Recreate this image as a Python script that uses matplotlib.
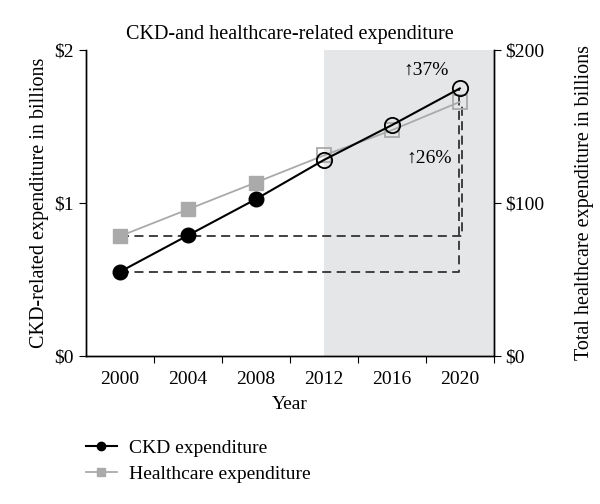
import matplotlib.pyplot as plt
from matplotlib.lines import Line2D

# data
years = [2000, 2004, 2008, 2012, 2016, 2020]
ckd = [0.549, 0.787, 1.024, 1.28, 1.508, 1.748]          # $ billions (left)
healthcare = [78.2, 95.7, 113.3, 131, 147.5, 166]       # $ billions (right)
projection_start = 2012
labels_pct = ["↑37%", "↑26%"]

plt.rcParams['font.family'] = ['Liberation Serif', 'DejaVu Serif']
plt.rcParams['font.size'] = 14

fig = plt.figure(figsize=(6, 5.04), dpi=100)
ax = fig.add_axes([0.143, 0.294, 0.68, 0.607])
ax2 = ax.twinx()

ax.axvspan(projection_start, 2022, color='#e5e6e7', zorder=0, lw=0)

obs = [i for i, y in enumerate(years) if y < projection_start]
prj = [i for i, y in enumerate(years) if y >= projection_start]

# dashed reference lines (2000 level carried to 2020)
dash = dict(ls=(0, (5, 3)), color='#333333', lw=1.3, zorder=2)
ax2.plot([years[0], years[-1] + 0.1, years[-1] + 0.1],
         [healthcare[0], healthcare[0], healthcare[-1]], **dash)
ax2.plot([years[0], years[-1] - 0.05, years[-1] - 0.05],
         [ckd[0] * 100, ckd[0] * 100, ckd[-1] * 100], **dash)

# healthcare on right axis
hc_col = '#aaaaaa'
ax2.plot(years, healthcare, color=hc_col, lw=1.3, zorder=3)
ax2.plot([years[i] for i in obs], [healthcare[i] for i in obs], 's',
         color=hc_col, ms=10, zorder=4)
ax2.plot([years[i] for i in prj], [healthcare[i] for i in prj], 's',
         mfc='none', mec=hc_col, mew=1.3, ms=10, zorder=4)

# CKD on left axis (drawn on twin scale, $1 = 100)
ax2.plot(years, [v * 100 for v in ckd], color='black', lw=1.5, zorder=5)
ax2.plot([years[i] for i in obs], [ckd[i] * 100 for i in obs], 'o',
         color='black', ms=10.5, zorder=6)
ax2.plot([years[i] for i in prj], [ckd[i] * 100 for i in prj], 'o',
         mfc='none', mec='black', mew=1.3, ms=11, zorder=6)

ax2.text(2018.0, 187, labels_pct[0], ha='center', va='center', fontsize=14)
ax2.text(2018.2, 129, labels_pct[1], ha='center', va='center', fontsize=14)

ax.set_xlim(1998, 2022)
ax.set_ylim(0, 2)
ax2.set_ylim(0, 200)
ax.set_xticks([2002, 2006, 2010, 2014, 2018, 2022])
ax.set_xticklabels([])
ax.set_xticks(years, minor=True)
ax.set_xticklabels([str(y) for y in years], minor=True)
ax.tick_params(axis='x', which='minor', length=0, pad=11)
ax.tick_params(axis='x', which='major', length=5, direction='out')
ax.set_yticks([0, 1, 2])
ax.set_yticklabels(['$0', '$1', '$2'])
ax2.set_yticks([0, 100, 200])
ax2.set_yticklabels(['$0', '$100', '$200'])
ax.tick_params(axis='y', length=5, labelsize=14)
ax2.tick_params(axis='y', length=5, labelsize=14)
ax.tick_params(axis='x', labelsize=14)

ax.spines['top'].set_visible(False)
ax2.spines['top'].set_visible(False)
for a in (ax, ax2):
    for s in a.spines.values():
        s.set_linewidth(1.0)

ax.set_xlabel('Year', fontsize=14, labelpad=6)
ax.set_ylabel('CKD-related expenditure in billions', fontsize=14.5, labelpad=4)
ax2.set_ylabel('Total healthcare expenditure in billions', fontsize=14.5, labelpad=22)
ax.set_title('CKD-and healthcare-related expenditure', fontsize=14.5, pad=8)

handles = [
    Line2D([], [], color='black', lw=1.5, marker='o', ms=6),
    Line2D([], [], color=hc_col, lw=1.3, marker='s', ms=6),
]
fig.legend(handles, ['CKD expenditure', 'Healthcare expenditure'],
           loc='upper left', bbox_to_anchor=(0.127, 0.147), frameon=False,
           fontsize=14, handlelength=1.6, handletextpad=0.6,
           labelspacing=0.4, borderpad=0)

fig.savefig('out.png', dpi=100)
